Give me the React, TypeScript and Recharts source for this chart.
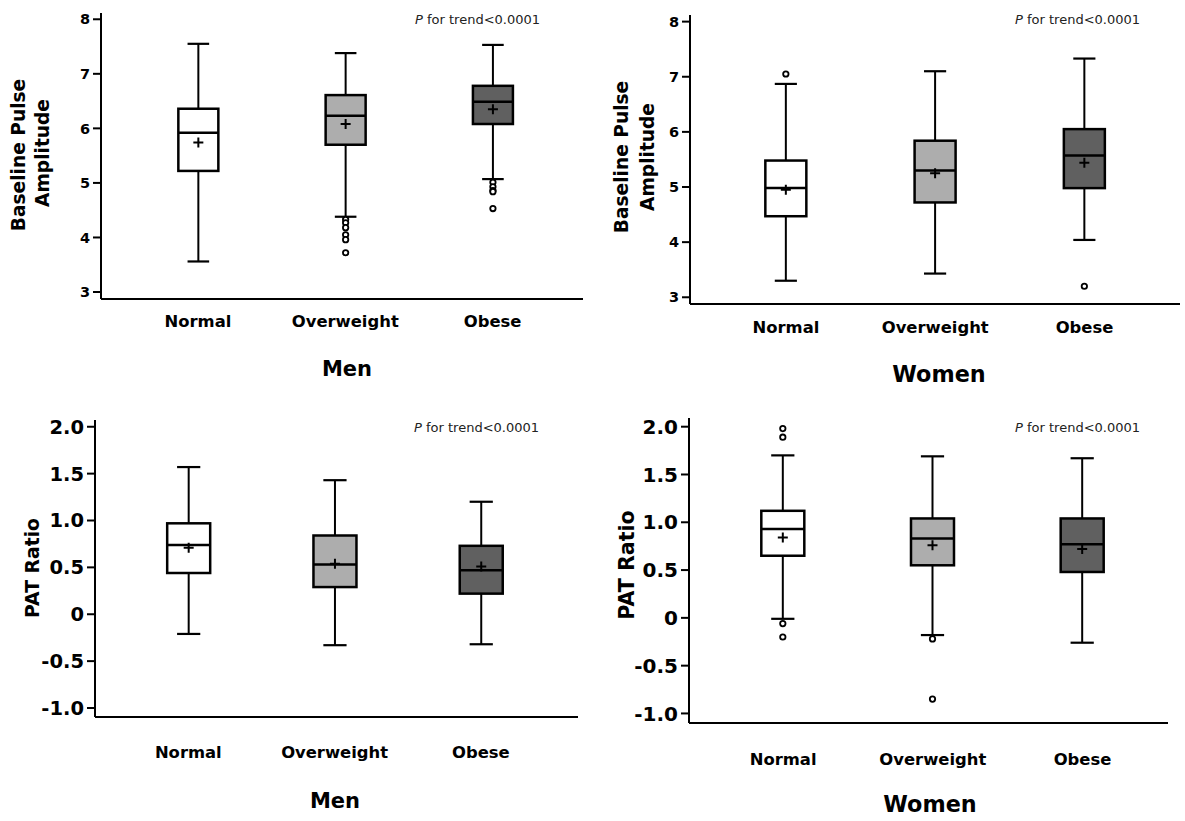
import { ComposedChart, Bar, XAxis, YAxis } from "recharts";

const groups = ["Normal", "Overweight", "Obese"];
const groupPos = [1, 2, 3];

// Men – baseline pulse amplitude
const menBpaLow = [3.56, 4.38, 5.07];
const menBpaQ1 = [5.22, 5.7, 6.08];
const menBpaMedian = [5.92, 6.23, 6.49];
const menBpaQ3 = [6.36, 6.61, 6.78];
const menBpaHigh = [7.55, 7.38, 7.53];
const menBpaMean = [5.74, 6.08, 6.35];
const menBpaOutliers = [[], [4.33, 4.27, 4.18, 4.05, 3.96, 3.72], [5.01, 4.93, 4.86, 4.84, 4.53]];

// Women – baseline pulse amplitude
const womenBpaLow = [3.3, 3.43, 4.04];
const womenBpaQ1 = [4.47, 4.72, 4.98];
const womenBpaMedian = [4.98, 5.3, 5.57];
const womenBpaQ3 = [5.48, 5.84, 6.05];
const womenBpaHigh = [6.87, 7.1, 7.33];
const womenBpaMean = [4.95, 5.25, 5.44];
const womenBpaOutliers = [[7.05], [], [3.2]];

// Men – PAT ratio
const menPatLow = [-0.21, -0.33, -0.32];
const menPatQ1 = [0.44, 0.29, 0.22];
const menPatMedian = [0.74, 0.53, 0.47];
const menPatQ3 = [0.97, 0.84, 0.73];
const menPatHigh = [1.57, 1.43, 1.2];
const menPatMean = [0.71, 0.54, 0.51];
const menPatOutliers = [[], [], []];

// Women – PAT ratio
const womenPatLow = [-0.01, -0.18, -0.26];
const womenPatQ1 = [0.65, 0.55, 0.48];
const womenPatMedian = [0.93, 0.83, 0.77];
const womenPatQ3 = [1.12, 1.04, 1.04];
const womenPatHigh = [1.7, 1.69, 1.67];
const womenPatMean = [0.84, 0.76, 0.72];
const womenPatOutliers = [[1.98, 1.89, -0.06, -0.2], [-0.22, -0.85], []];

const bpaTicks = [3, 4, 5, 6, 7, 8];
const patTicks = [-1, -0.5, 0, 0.5, 1, 1.5, 2];
const trendText = "for trend<0.0001";

const boxFills = ["#ffffff", "#adadad", "#606060"];
const FONT = "DejaVu Sans, Arial, sans-serif";

function buildRows(low, q1, median, q3, high, mean, outliers) {
  return groupPos.map((pos, i) => ({
    pos,
    name: groups[i],
    range: [low[i], high[i]],
    low: low[i],
    q1: q1[i],
    median: median[i],
    q3: q3[i],
    high: high[i],
    mean: mean[i],
    outliers: outliers[i],
  }));
}

function BoxShape(props: any) {
  const { x, y, width, height, payload } = props;
  if (!payload) return null;
  const top = Math.min(y, y + height);
  const bottom = Math.max(y, y + height);
  const span = payload.high - payload.low;
  const toY = (v: number) => top + ((payload.high - v) / span) * (bottom - top);
  const cx = x + width / 2;
  const cap = width * 0.27;
  const yQ3 = toY(payload.q3);
  const yQ1 = toY(payload.q1);
  const yMed = toY(payload.median);
  const yMean = toY(payload.mean);
  return (
    <g>
      <line x1={cx} x2={cx} y1={toY(payload.high)} y2={yQ3} stroke="#000" strokeWidth={2} />
      <line x1={cx} x2={cx} y1={yQ1} y2={toY(payload.low)} stroke="#000" strokeWidth={2} />
      <line x1={cx - cap} x2={cx + cap} y1={toY(payload.high)} y2={toY(payload.high)} stroke="#000" strokeWidth={2.2} />
      <line x1={cx - cap} x2={cx + cap} y1={toY(payload.low)} y2={toY(payload.low)} stroke="#000" strokeWidth={2.2} />
      <rect x={x} y={yQ3} width={width} height={yQ1 - yQ3} fill={boxFills[payload.pos - 1]} stroke="#000" strokeWidth={2.5} />
      <line x1={x} x2={x + width} y1={yMed} y2={yMed} stroke="#000" strokeWidth={2.5} />
      <path d={`M${cx - 5},${yMean}H${cx + 5}M${cx},${yMean - 5}V${yMean + 5}`} stroke="#000" strokeWidth={2} />
      {payload.outliers.map((v: number, k: number) => (
        <circle key={k} cx={cx} cy={toY(v)} r={2.7} fill="#fff" stroke="#000" strokeWidth={1.8} />
      ))}
    </g>
  );
}

const makeCategoryTick = (dy: number) => (props: any) => (
  <text
    x={props.x}
    y={props.y + dy}
    textAnchor="middle"
    fontFamily={FONT}
    fontWeight="bold"
    fontSize={16.4}
    fill="#000"
  >
    {groups[props.payload.value - 1]}
  </text>
);

const patFormat = (v: number) => (v === 0 ? "0" : v.toFixed(1));

const panels = [
  {
    key: "men-bpa",
    rows: buildRows(menBpaLow, menBpaQ1, menBpaMedian, menBpaQ3, menBpaHigh, menBpaMean, menBpaOutliers),
    left: 0, top: 0, width: 590, height: 400,
    margin: { top: 13, right: 7, left: 0, bottom: 71 },
    yWidth: 101, xDomain: [0.3415, 3.614], yDomain: [2.872, 8.115],
    ticks: bpaTicks, tickFont: 14.5, format: (v: number) => String(v), boxWidth: 40, labelDy: 28,
  },
  {
    key: "women-bpa",
    rows: buildRows(womenBpaLow, womenBpaQ1, womenBpaMedian, womenBpaQ3, womenBpaHigh, womenBpaMean, womenBpaOutliers),
    left: 590, top: 0, width: 595, height: 400,
    margin: { top: 15, right: 5, left: 0, bottom: 66 },
    yWidth: 100, xDomain: [0.357, 3.64], yDomain: [2.878, 8.12],
    ticks: bpaTicks, tickFont: 14.5, format: (v: number) => String(v), boxWidth: 41, labelDy: 29,
  },
  {
    key: "men-pat",
    rows: buildRows(menPatLow, menPatQ1, menPatMedian, menPatQ3, menPatHigh, menPatMean, menPatOutliers),
    left: 0, top: 400, width: 590, height: 421,
    margin: { top: 20, right: 12, left: 0, bottom: 74 },
    yWidth: 95, xDomain: [0.362, 3.664], yDomain: [-1.096, 2.072],
    ticks: patTicks, tickFont: 19.5, format: patFormat, boxWidth: 43, labelDy: 41,
  },
  {
    key: "women-pat",
    rows: buildRows(womenPatLow, womenPatQ1, womenPatMedian, womenPatQ3, womenPatHigh, womenPatMean, womenPatOutliers),
    left: 590, top: 400, width: 595, height: 421,
    margin: { top: 18, right: 17, left: 0, bottom: 68 },
    yWidth: 99, xDomain: [0.371, 3.571], yDomain: [-1.1, 2.091],
    ticks: patTicks, tickFont: 20, format: patFormat, boxWidth: 43, labelDy: 42,
  },
];

// titles, axis titles and trend notes drawn on top of the charts
const titles = [
  { text: "Men", x: 347, y: 376, size: 21 },
  { text: "Women", x: 939, y: 382, size: 22.3 },
  { text: "Men", x: 335, y: 808, size: 21 },
  { text: "Women", x: 930, y: 812, size: 22.3 },
];
const yTitles = [
  { text: "Baseline Pulse", x: 25, y: 155, size: 18.6 },
  { text: "Amplitude", x: 48.5, y: 153, size: 18.6 },
  { text: "Baseline Pulse", x: 628, y: 157, size: 18.6 },
  { text: "Amplitude", x: 654, y: 157, size: 18.6 },
  { text: "PAT Ratio", x: 39, y: 568, size: 18.8 },
  { text: "PAT Ratio", x: 634, y: 565, size: 20.6 },
];
const trendNotes = [
  { x: 415, y: 24 },
  { x: 1015, y: 24 },
  { x: 414, y: 432 },
  { x: 1015, y: 432 },
];

export default function App() {
  return (
    <div style={{ position: "absolute", left: 0, top: 0, width: 1185, height: 821, background: "#fff" }}>
      {panels.map((p) => (
        <div key={p.key} style={{ position: "absolute", left: p.left, top: p.top, width: p.width, height: p.height }}>
          <ComposedChart width={p.width} height={p.height} data={p.rows} margin={p.margin}>
            <XAxis
              type="number"
              dataKey="pos"
              domain={p.xDomain}
              ticks={groupPos}
              allowDataOverflow
              interval={0}
              height={30}
              tickLine={false}
              tickSize={0}
              tickMargin={0}
              axisLine={{ stroke: "#000", strokeWidth: 2 }}
              tick={makeCategoryTick(p.labelDy)}
            />
            <YAxis
              type="number"
              domain={p.yDomain}
              ticks={p.ticks}
              allowDataOverflow
              interval={0}
              width={p.yWidth}
              tickSize={8}
              tickMargin={3}
              tickFormatter={p.format}
              axisLine={{ stroke: "#000", strokeWidth: 2 }}
              tickLine={{ stroke: "#000", strokeWidth: 2 }}
              tick={{ fill: "#000", fontSize: p.tickFont, fontWeight: "bold", fontFamily: FONT }}
            />
            <Bar dataKey="range" barSize={p.boxWidth} shape={BoxShape} isAnimationActive={false} />
          </ComposedChart>
        </div>
      ))}
      <svg width={1185} height={821} style={{ position: "absolute", left: 0, top: 0, pointerEvents: "none" }}>
        {titles.map((t, i) => (
          <text key={"t" + i} x={t.x} y={t.y} textAnchor="middle" fontFamily={FONT} fontWeight="bold" fontSize={t.size} fill="#000">
            {t.text}
          </text>
        ))}
        {yTitles.map((t, i) => (
          <text
            key={"y" + i}
            x={t.x}
            y={t.y}
            transform={`rotate(-90, ${t.x}, ${t.y})`}
            textAnchor="middle"
            fontFamily={FONT}
            fontWeight="bold"
            fontSize={t.size}
            fill="#000"
          >
            {t.text}
          </text>
        ))}
        {trendNotes.map((n, i) => (
          <text key={"n" + i} x={n.x} y={n.y} fontFamily={FONT} fontSize={13} fill="#222">
            <tspan fontStyle="italic">P</tspan> {trendText}
          </text>
        ))}
      </svg>
    </div>
  );
}
